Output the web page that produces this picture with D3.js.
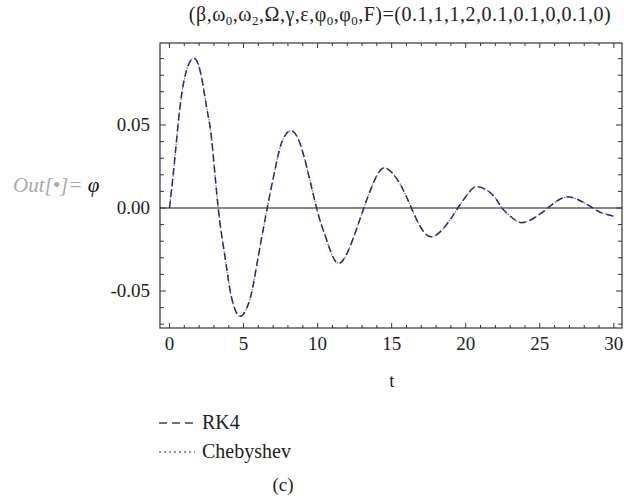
<!DOCTYPE html>
<html>
<head>
<meta charset="utf-8">
<script src="https://cdn.jsdelivr.net/npm/d3@7"></script>
<style>
  body { margin: 0; background: #fff; }
  svg { display: block; }
</style>
</head>
<body>
<div id="chart"></div>
<script>
// values (t, phi)
const tValues = [0, 0.26, 0.48, 0.71, 1.04, 1.54, 2.06, 2.5, 2.85, 3.29, 3.74, 4.08, 4.42, 4.87, 5.43, 5.88, 6.6,
  7.17, 7.6, 8.24, 9.02, 9.93, 10.6, 11.38, 12.29, 13.12, 13.97, 14.65, 15.54, 16.33, 17.0, 17.75, 18.69,
  19.47, 20.26, 20.89, 21.83, 22.45, 23.18, 23.86, 24.76, 25.54, 26.22, 27.0, 27.9, 28.58, 29.14, 30];
const rk4Values = [0, 0.021, 0.041, 0.061, 0.079, 0.090, 0.083, 0.061, 0.041, 0, -0.029, -0.049, -0.061, -0.065,
  -0.055, -0.035, 0, 0.025, 0.040, 0.0466, 0.033, 0, -0.019, -0.0333, -0.021, 0, 0.019, 0.0239, 0.0149, 0,
  -0.0122, -0.0173, -0.0102, 0, 0.0098, 0.0128, 0.0078, 0, -0.0062, -0.0088, -0.0052, 0, 0.0046, 0.0066,
  0.0036, 0, -0.0028, -0.0050];
// the two methods coincide at this scale
const chebyshevValues = rk4Values.slice();

const xTicks = [0, 5, 10, 15, 20, 25, 30];
const yTicks = [-0.05, 0, 0.05];
const yTickLabels = ["-0.05", "0.00", "0.05"];
const seriesNames = ["RK4", "Chebyshev"];
// title pieces: [text, subscript]
const titleParts = [["(β,ω", ""], ["", "0"], [",ω", ""], ["", "2"], [",Ω,γ,ε,φ", ""], ["", "0"], [",φ", ""], ["", "0"],
  [",F)=(0.1,1,1,2,0.1,0.1,0,0.1,0)", ""]];

const width = 624;
const height = 500;
const plotLeft = 160, plotRight = 622, plotTop = 43, plotBottom = 328;
const serif = "'Liberation Serif', 'DejaVu Serif', serif";

const svg = d3.select("#chart").append("svg")
  .attr("width", width)
  .attr("height", height)
  .attr("font-family", serif);

const x = d3.scaleLinear().domain([-0.64, 30.55]).range([plotLeft, plotRight]);
const y = d3.scaleLinear().domain([-0.0723, 0.0994]).range([plotBottom, plotTop]);

// title
const title = svg.append("text")
  .attr("x", 400).attr("y", 25)
  .attr("text-anchor", "middle")
  .attr("font-family", serif)
  .attr("font-size", 20)
  .attr("letter-spacing", 0.5)
  .attr("fill", "#222");
titleParts.forEach(p => {
  if (p[1]) {
    title.append("tspan").attr("font-size", 13).attr("dy", 4).text(p[1]);
  } else {
    title.append("tspan").attr("dy", title.node().childNodes.length ? -4 : 0).text(p[0]);
  }
});

// Out[•]= label
const outLabel = svg.append("text")
  .attr("x", 13).attr("y", 192)
  .attr("font-family", serif)
  .attr("font-size", 21);
outLabel.append("tspan")
  .attr("font-style", "italic")
  .attr("fill", "#aaa")
  .text("Out[•]= ");
outLabel.append("tspan")
  .attr("font-style", "italic")
  .attr("fill", "#111")
  .text("φ");

// zero line
svg.append("line")
  .attr("x1", plotLeft).attr("x2", plotRight)
  .attr("y1", y(0)).attr("y2", y(0))
  .attr("stroke", "#111")
  .attr("stroke-width", 1.2);

// curves
const data = tValues.map((t, i) => ({ t: t, rk4: rk4Values[i], cheb: chebyshevValues[i] }));

const lineCheb = d3.line().x(d => x(d.t)).y(d => y(d.cheb)).curve(d3.curveNatural);
const lineRk4 = d3.line().x(d => x(d.t)).y(d => y(d.rk4)).curve(d3.curveNatural);

svg.append("path")
  .datum(data)
  .attr("d", lineCheb)
  .attr("fill", "none")
  .attr("stroke", "#6f68b8")
  .attr("stroke-width", 1.2)
  .attr("stroke-dasharray", "1.5,2");

svg.append("path")
  .datum(data)
  .attr("d", lineRk4)
  .attr("fill", "none")
  .attr("stroke", "#2c2c60")
  .attr("stroke-width", 1.5)
  .attr("stroke-dasharray", "7,4");

// frame
svg.append("rect")
  .attr("x", plotLeft).attr("y", plotTop)
  .attr("width", plotRight - plotLeft).attr("height", plotBottom - plotTop)
  .attr("fill", "none")
  .attr("stroke", "#333")
  .attr("stroke-width", 1.2);

// ticks on all four sides
const xMinor = d3.range(0, 31, 1);
const yMinor = d3.range(-7, 10, 1).map(v => v / 100);

xMinor.forEach(v => {
  const len = v % 5 === 0 ? 5 : 3;
  svg.append("line").attr("x1", x(v)).attr("x2", x(v)).attr("y1", plotBottom).attr("y2", plotBottom - len)
    .attr("stroke", "#333").attr("stroke-width", 1);
  svg.append("line").attr("x1", x(v)).attr("x2", x(v)).attr("y1", plotTop).attr("y2", plotTop + len)
    .attr("stroke", "#333").attr("stroke-width", 1);
});

yMinor.forEach(v => {
  const len = Math.abs(Math.round(v * 100)) % 5 === 0 ? 6 : 4;
  svg.append("line").attr("x1", plotLeft).attr("x2", plotLeft + len).attr("y1", y(v)).attr("y2", y(v))
    .attr("stroke", "#333").attr("stroke-width", 1);
  svg.append("line").attr("x1", plotRight).attr("x2", plotRight - len).attr("y1", y(v)).attr("y2", y(v))
    .attr("stroke", "#333").attr("stroke-width", 1);
});

// tick labels
svg.selectAll(".xlab")
  .data(xTicks)
  .enter().append("text")
  .attr("class", "xlab")
  .attr("x", d => x(d))
  .attr("y", 350)
  .attr("text-anchor", "middle")
  .attr("font-family", serif)
  .attr("font-size", 19)
  .attr("fill", "#222")
  .text(d => d);

svg.selectAll(".ylab")
  .data(yTicks)
  .enter().append("text")
  .attr("class", "ylab")
  .attr("x", 150)
  .attr("y", d => y(d) + 6)
  .attr("text-anchor", "end")
  .attr("font-family", serif)
  .attr("font-size", 19)
  .attr("fill", "#222")
  .text((d, i) => yTickLabels[i]);

// axis label
svg.append("text")
  .attr("x", 392).attr("y", 387)
  .attr("text-anchor", "middle")
  .attr("font-family", serif)
  .attr("font-size", 19)
  .attr("fill", "#222")
  .text("t");

// legend
const legendY = [423, 452];
svg.append("line")
  .attr("x1", 159).attr("x2", 195).attr("y1", legendY[0]).attr("y2", legendY[0])
  .attr("stroke", "#444").attr("stroke-width", 1.3)
  .attr("stroke-dasharray", "8,5");
svg.append("line")
  .attr("x1", 159).attr("x2", 195).attr("y1", legendY[1]).attr("y2", legendY[1])
  .attr("stroke", "#6f68b8").attr("stroke-width", 1.3)
  .attr("stroke-dasharray", "2,3");

svg.selectAll(".leg")
  .data(seriesNames)
  .enter().append("text")
  .attr("class", "leg")
  .attr("x", 202)
  .attr("y", (d, i) => legendY[i] + 6)
  .attr("font-family", serif)
  .attr("font-size", 20)
  .attr("fill", "#222")
  .text(d => d);

// panel label
svg.append("text")
  .attr("x", 283).attr("y", 491)
  .attr("text-anchor", "middle")
  .attr("font-family", serif)
  .attr("font-size", 19)
  .attr("fill", "#222")
  .text("(c)");
</script>
</body>
</html>
